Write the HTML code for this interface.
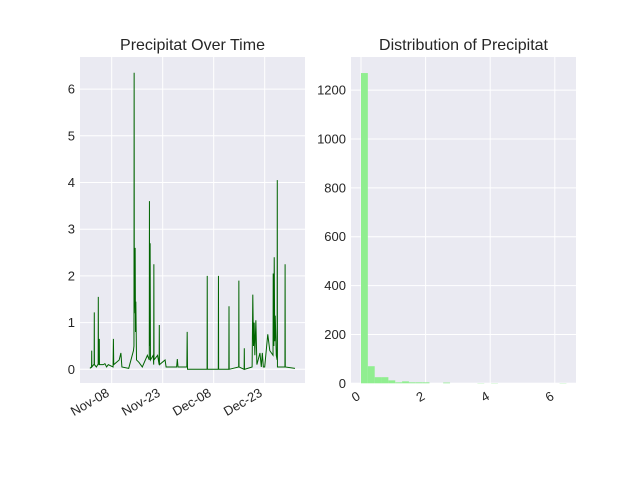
<!DOCTYPE html>
<html><head><meta charset="utf-8"><style>
body{margin:0;background:#fff;}
svg text{font-family:"Liberation Sans",sans-serif;fill:#262626;}
</style></head><body>
<svg id="c" width="640" height="480" xmlns="http://www.w3.org/2000/svg"></svg>
<script>
const days=[0.6,1.0,1.08,1.12,1.16,1.7,1.84,1.88,1.92,2.5,2.9,3.02,3.06,3.1,3.3,3.35,3.4,4.5,5,5.5,6,7.4,7.5,7.6,9.2,9.7,10,12,13.4,13.55,13.6,13.65,13.9,14.0,14.1,14.3,15,16,17.5,18.05,18.1,18.15,18.3,18.4,19.2,19.35,19.4,19.45,20.5,20.95,21.0,21.05,22.7,23,26.1,26.3,26.5,29.1,29.2,29.3,35.05,35.1,35.15,38.35,38.4,38.45,41.45,41.5,41.55,44.35,44.4,44.45,45.95,46.0,46.05,48.3,48.5,48.7,48.9,49.1,49.4,49.7,50.6,51.0,51.3,51.6,52.0,52.9,53.5,54.45,54.5,54.7,54.8,54.95,55.1,55.4,55.65,55.7,55.75,57.95,58.0,58.05,60.9];
const precip=[0.02,0.05,0.05,0.4,0.05,0.1,0.1,1.22,0.1,0.05,0.1,0.1,1.55,0.3,0.1,0.65,0.1,0.1,0.12,0.05,0.1,0.05,0.65,0.1,0.2,0.35,0.05,0.02,0.4,0.5,6.35,1.2,2.6,0.8,1.45,0.2,0.15,0.05,0.3,0.2,3.6,0.5,2.7,0.2,0.3,0.1,2.25,0.2,0.3,0.1,0.95,0.1,0.2,0.05,0.05,0.22,0.05,0.05,0.8,0,0,2.0,0,0,2.0,0,0,1.35,0,0.05,1.9,0.05,0,0.45,0,0.05,1.6,0.5,1.0,0.3,1.05,0.1,0.35,0.05,0.35,0.05,0.05,0.75,0.4,0.3,2.05,0.5,2.4,0.6,1.15,0.3,0.2,4.05,0.05,0.05,2.25,0.05,0.02];
const dateTickDays=[7,22,37,52];
const dateTickLabels=["Nov-08","Nov-23","Dec-08","Dec-23"];
const leftYTicks=[0,1,2,3,4,5,6];
const binStart=0, binWidth=0.212;
const counts=[1270,70,25,25,12,4,8,4,4,4,0,0,3,0,0,0,0,1,0,1,0,0,0,0,0,0,0,0,0,1];
const rightYTicks=[0,200,400,600,800,1000,1200];
const rightXTicks=[0,2,4,6];

const svg=document.getElementById('c');
const NS='http://www.w3.org/2000/svg';
function el(t,a,p){const e=document.createElementNS(NS,t);for(const k in a)e.setAttribute(k,a[k]);(p||svg).appendChild(e);return e;}

const L={x0:80,x1:305,y0:57,y1:383};
const lx=d=>111.7+(d-7)*3.4;
const ly=v=>369.3-v*46.7;
const g1=el('g',{});


el('rect',{x:L.x0,y:L.y0,width:L.x1-L.x0,height:L.y1-L.y0,fill:'#EAEAF2'},g1);
leftYTicks.forEach(v=>{
  el('line',{x1:L.x0,x2:L.x1,y1:ly(v),y2:ly(v),stroke:'#fff','stroke-width':1},g1);
  const t=el('text',{x:L.x0-5,y:ly(v)+4.5,'text-anchor':'end','font-size':13},g1);t.textContent=v;
  
  
});
dateTickDays.forEach((d,i)=>{
  el('line',{x1:lx(d),x2:lx(d),y1:L.y0,y2:L.y1,stroke:'#fff','stroke-width':1},g1);
  const tx=lx(d)-4;
  const t=el('text',{x:tx,y:L.y1+13,'text-anchor':'end','font-size':13,transform:`rotate(-30 ${tx} ${L.y1+8})`},g1);
  t.textContent=dateTickLabels[i];
  
  
});
const pts=days.map((d,i)=>lx(d).toFixed(2)+','+ly(precip[i]).toFixed(2)).join(' ');
const line=el('polyline',{points:pts,fill:'none',stroke:'#006400','stroke-width':1},g1);


const t1=el('text',{x:(L.x0+L.x1)/2,y:50,'text-anchor':'middle','font-size':16},g1);t1.textContent='Precipitat Over Time';



const R={x0:351,x1:576,y0:57,y1:383};
const rx=v=>361+v*32.3;
const ry=c=>383.3-c*0.2443;
const g2=el('g',{});


el('rect',{x:R.x0,y:R.y0,width:R.x1-R.x0,height:R.y1-R.y0,fill:'#EAEAF2'},g2);
rightYTicks.forEach(v=>{
  el('line',{x1:R.x0,x2:R.x1,y1:ry(v),y2:ry(v),stroke:'#fff','stroke-width':1},g2);
  const t=el('text',{x:R.x0-5,y:ry(v)+4.5,'text-anchor':'end','font-size':13},g2);t.textContent=v;
  
  
});
rightXTicks.forEach(v=>{
  el('line',{x1:rx(v),x2:rx(v),y1:R.y0,y2:R.y1,stroke:'#fff','stroke-width':1},g2);
  const tx=rx(v)-5;
  const t=el('text',{x:tx,y:R.y1+18,'text-anchor':'middle','font-size':13,transform:`rotate(-30 ${tx} ${R.y1+14})`},g2);t.textContent=v;
  
  
});
counts.forEach((c,i)=>{
  if(!c)return;
  const x0=rx(binStart+i*binWidth),x1=rx(binStart+(i+1)*binWidth);
  const b=el('rect',{x:x0,y:ry(c),width:x1-x0,height:ry(0)-ry(c),fill:'#90EE90'},g2);
  
  
});
const t2=el('text',{x:(R.x0+R.x1)/2,y:50,'text-anchor':'middle','font-size':16},g2);t2.textContent='Distribution of Precipitat';


</script>
</body></html>
